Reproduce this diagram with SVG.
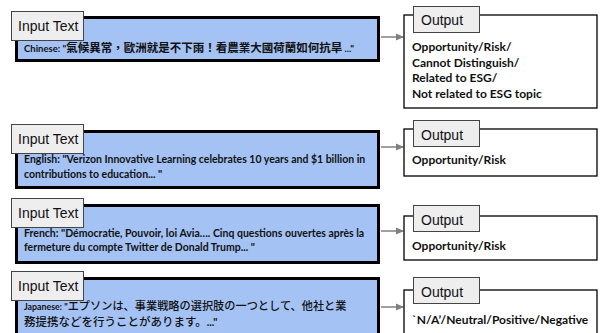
<svg xmlns="http://www.w3.org/2000/svg" width="600" height="333" viewBox="0 0 600 333">
<defs>
<marker id="ah" markerWidth="8" markerHeight="8" refX="7" refY="4" orient="auto" markerUnits="userSpaceOnUse">
<path d="M0,0.5 L8,4 L0,7.5 z" fill="#7f7f7f"/>
</marker>
<style>
.inbox{fill:#a4c2f4;stroke:#000;stroke-width:3}
.outbox{fill:#fff;stroke:#000;stroke-width:1.3}
.lab{fill:#eeeeee;stroke:#444;stroke-width:1}
.labt{font-family:"Liberation Sans",Arial,sans-serif;font-size:14px;fill:#111}
.body{font-family:Lato,"Noto Sans CJK TC",sans-serif;font-weight:700;font-size:10.5px;fill:#111}
.small{font-size:9.5px}
.tiny{font-size:8.8px}
.cjk{font-family:"Noto Sans CJK TC",sans-serif;font-weight:700;font-size:11.5px}
.jp{font-family:"Noto Sans CJK JP",sans-serif;font-weight:500;font-size:11.5px}
.jp1{font-size:11.2px}
.out{font-family:Lato,sans-serif;font-weight:700;font-size:12px;fill:#111}
.conn{stroke:#7f7f7f;stroke-width:1.5;fill:none;marker-end:url(#ah)}
</style>
</defs>
<rect width="600" height="333" fill="#fff"/>

<g id="connectors">
<line class="conn" x1="381" y1="37" x2="403" y2="37"/>
<line class="conn" x1="381" y1="147" x2="403" y2="147"/>
<line class="conn" x1="381" y1="231" x2="403" y2="231"/>
<line class="conn" x1="381" y1="307" x2="403" y2="307"/>
</g>

<g id="input-chinese">
<rect class="inbox" x="16.5" y="17.5" width="362" height="43"/>
<rect class="lab" x="11.5" y="11.5" width="72" height="29"/>
<text class="labt" x="18" y="31">Input Text</text>
<text class="body small" x="24" y="52">Chinese: "<tspan class="cjk">氣候異常，歐洲就是不下雨！看農業大國荷蘭如何抗旱</tspan> ..."</text>
</g>

<g id="output-1">
<rect class="outbox" x="404" y="15" width="193" height="93"/>
<rect class="lab" x="413.5" y="6.5" width="66" height="26"/>
<text class="labt" x="421" y="25">Output</text>
<text class="out" x="412" y="51">Opportunity/Risk/</text>
<text class="out" x="412" y="66.5">Cannot Distinguish/</text>
<text class="out" x="412" y="82">Related to ESG/</text>
<text class="out" x="412" y="97.5">Not related to ESG topic</text>
</g>

<g id="input-english">
<rect class="inbox" x="16.5" y="131.5" width="362" height="56"/>
<rect class="lab" x="11.5" y="124.5" width="72" height="29"/>
<text class="labt" x="18" y="144">Input Text</text>
<text class="body" x="24" y="163">English: "Verizon Innovative Learning celebrates 10 years and $1 billion in</text>
<text class="body" x="24" y="178">contributions to education... "</text>
</g>

<g id="output-2">
<rect class="outbox" x="404" y="129" width="193" height="47"/>
<rect class="lab" x="413.5" y="120.5" width="66" height="26"/>
<text class="labt" x="421" y="140">Output</text>
<text class="out" x="412" y="164">Opportunity/Risk</text>
</g>

<g id="input-french">
<rect class="inbox" x="16.5" y="205.5" width="362" height="57"/>
<rect class="lab" x="11.5" y="198.5" width="72" height="29"/>
<text class="labt" x="18" y="218">Input Text</text>
<text class="body" x="24" y="237">French: "Démocratie, Pouvoir, loi Avia…. Cinq questions ouvertes après la</text>
<text class="body" x="24" y="251">fermeture du compte Twitter de Donald Trump... "</text>
</g>

<g id="output-3">
<rect class="outbox" x="404" y="216" width="193" height="44"/>
<rect class="lab" x="413.5" y="205.5" width="66" height="26"/>
<text class="labt" x="421" y="225">Output</text>
<text class="out" x="412" y="250">Opportunity/Risk</text>
</g>

<g id="input-japanese">
<rect class="inbox" x="16.5" y="278.5" width="362" height="60"/>
<rect class="lab" x="11.5" y="271.5" width="72" height="29"/>
<text class="labt" x="18" y="291">Input Text</text>
<text class="body tiny" x="24" y="310">Japanese: "<tspan class="jp jp1">エプソンは、事業戦略の選択肢の一つとして、他社と業</tspan></text>
<text class="body" x="24" y="326"><tspan class="jp">務提携などを行うことがあります。</tspan>..."</text>
</g>

<g id="output-4">
<rect class="outbox" x="404" y="290" width="193" height="50"/>
<rect class="lab" x="413.5" y="277.5" width="66" height="26"/>
<text class="labt" x="421" y="297">Output</text>
<text class="out" x="412" y="324">`N/A’/Neutral/Positive/Negative</text>
</g>
</svg>
